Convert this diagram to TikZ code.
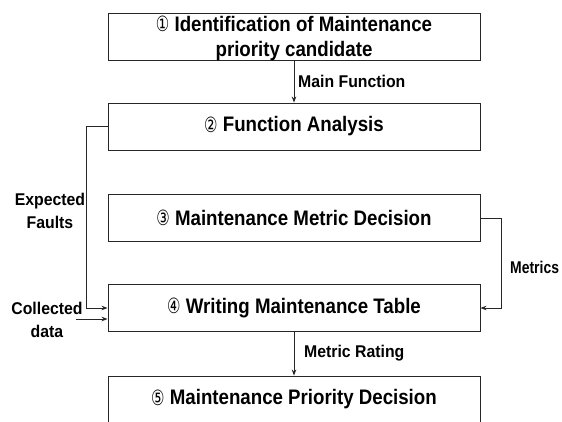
\documentclass[tikz,border=0pt]{standalone}
\usepackage{fontspec}
\setmainfont{Liberation Sans}
\newfontfamily\boxfont{Liberation Sans}[FakeStretch=0.89]
\newfontfamily\labfont{Liberation Sans}[FakeStretch=0.93]
\newfontfamily\narfont{Liberation Sans}[FakeStretch=0.82]
\newfontfamily\circfont{DejaVu Sans}
\usetikzlibrary{arrows.meta}
\newcommand{\cnum}[1]{\raisebox{-0.5pt}{\scalebox{0.75}[1.05]{\circfont\mdseries\fontsize{20}{20}\selectfont #1}}}
\tikzset{
  stepbox/.style={draw=black!85, line width=0.9pt, minimum width=372pt, minimum height=47pt,
    inner sep=0pt, align=center, font=\boxfont\bfseries\fontsize{21}{25.5}\selectfont},
  lab/.style={font=\labfont\bfseries\fontsize{17}{23}\selectfont, inner sep=0pt, align=center},
  conn/.style={draw=black!85, line width=0.8pt},
  arr/.style={conn, -{Stealth[length=6pt,width=4.5pt]}}
}
\begin{document}
\begin{tikzpicture}[x=1pt,y=-1pt]
\useasboundingbox[fill=white] (0,0) rectangle (562,421);
\node[stepbox] (b1) at (294,36.5) {\cnum{①} Identification of Maintenance\\\raisebox{0pt}[\height][0pt]{priority candidate}};
\node[stepbox] (b2) at (294,126.5) {\cnum{②} Function Analysis};
\node[stepbox] (b3) at (294,218) {\cnum{③} Maintenance Metric Decision};
\node[stepbox] (b4) at (294,308) {\cnum{④} Writing Maintenance Table};
\node[stepbox] (b5) at (294,399.5) {\cnum{⑤} Maintenance Priority Decision};

\node[lab, anchor=west] (lmf) at (298,81) {Main Function};
\node[lab, anchor=west] (lmr) at (304,353) {Metric Rating};
\node[lab, anchor=west, font=\narfont\bfseries\fontsize{17}{23}\selectfont] (lm) at (510,267) {Metrics};
\node[lab] (lef) at (50,210.5) {Expected\\Faults};
\node[lab] (lcd) at (47,320) {Collected\\data};

\coordinate (cd) at (76,319);

\draw[arr] (b1.south) -- (b2.north);
\draw[arr] (b4.south) -- (b5.north);
\draw[arr] (b2.west) -- ++(-21,0) |- (b4.west);
\draw[arr] (b3.east) -- ++(21,0) |- (b4.east);
\draw[arr] (cd) -- (cd -| b4.west);
\end{tikzpicture}
\end{document}
